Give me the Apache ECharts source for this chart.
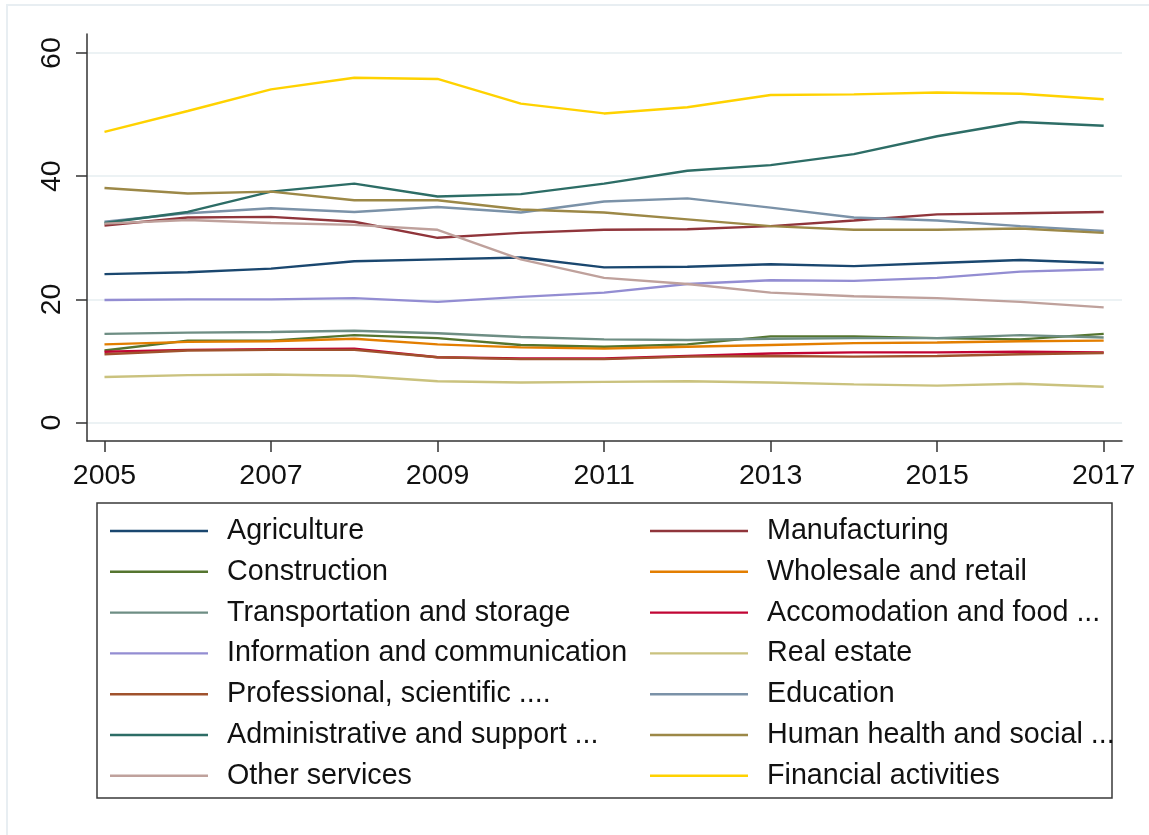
<!DOCTYPE html>
<html>
<head>
<meta charset="utf-8">
<title>Sector shares 2005-2017</title>
<script src="https://cdn.jsdelivr.net/npm/echarts@6/dist/echarts.min.js"></script>
<style>
  html, body { margin: 0; padding: 0; background: #ffffff; }
  #chart { width: 1149px; height: 835px; }
</style>
</head>
<body>
<div id="chart"></div>
<script>
// Years on the horizontal axis
const years = [2005, 2006, 2007, 2008, 2009, 2010, 2011, 2012, 2013, 2014, 2015, 2016, 2017];
const xTickYears = [2005, 2007, 2009, 2011, 2013, 2015, 2017];
const yTickValues = [0, 20, 40, 60];

// One array per sector
const agriculture     = [24.1, 24.4, 25.0, 26.2, 26.5, 26.8, 25.2, 25.3, 25.7, 25.4, 25.9, 26.4, 25.9];
const manufacturing   = [32.0, 33.3, 33.4, 32.6, 30.0, 30.8, 31.3, 31.4, 31.9, 32.8, 33.8, 34.0, 34.2];
const construction    = [11.7, 13.3, 13.3, 14.2, 13.7, 12.6, 12.3, 12.7, 14.0, 14.0, 13.7, 13.5, 14.4];
const wholesale       = [12.7, 13.1, 13.2, 13.6, 12.7, 12.2, 12.0, 12.3, 12.6, 12.9, 13.0, 13.2, 13.3];
const transportation  = [14.4, 14.6, 14.7, 14.9, 14.5, 13.9, 13.5, 13.4, 13.6, 13.7, 13.7, 14.2, 13.8];
const accomodation    = [11.5, 11.8, 11.9, 12.0, 10.6, 10.4, 10.4, 10.8, 11.2, 11.4, 11.4, 11.5, 11.4];
const information     = [19.9, 20.0, 20.0, 20.2, 19.6, 20.4, 21.1, 22.5, 23.1, 23.0, 23.5, 24.5, 24.9];
const realEstate      = [7.4, 7.7, 7.8, 7.6, 6.7, 6.5, 6.6, 6.7, 6.5, 6.2, 6.0, 6.3, 5.8];
const professional    = [11.1, 11.7, 11.8, 11.8, 10.6, 10.3, 10.3, 10.7, 10.8, 10.7, 10.8, 11.1, 11.3];
const education       = [32.6, 34.0, 34.8, 34.2, 35.0, 34.1, 35.9, 36.4, 34.9, 33.3, 32.8, 31.9, 31.1];
const administrative  = [32.4, 34.2, 37.5, 38.8, 36.7, 37.1, 38.8, 40.9, 41.8, 43.6, 46.5, 48.8, 48.2];
const humanHealth     = [38.1, 37.2, 37.5, 36.1, 36.1, 34.6, 34.1, 33.0, 31.9, 31.3, 31.3, 31.5, 30.8];
const otherServices   = [32.3, 32.9, 32.4, 32.1, 31.3, 26.5, 23.5, 22.5, 21.1, 20.5, 20.2, 19.6, 18.7];
const financial       = [47.2, 50.6, 54.1, 56.0, 55.8, 51.8, 50.2, 51.2, 53.2, 53.3, 53.6, 53.4, 52.5];

const sectorNames = [
  'Agriculture', 'Manufacturing', 'Construction', 'Wholesale and retail',
  'Transportation and storage', 'Accomodation and food ...', 'Information and communication',
  'Real estate', 'Professional, scientific ....', 'Education', 'Administrative and support ...',
  'Human health and social ...', 'Other services', 'Financial activities'
];
const sectorValues = [
  agriculture, manufacturing, construction, wholesale, transportation, accomodation,
  information, realEstate, professional, education, administrative, humanHealth,
  otherServices, financial
];
const sectorColors = [
  '#1a476f', '#90353b', '#55752f', '#e37e00', '#6e8e84', '#c10534', '#938dd2',
  '#cac27e', '#a0522d', '#7b92a8', '#2d6d66', '#9c8847', '#bfa19c', '#ffd200'
];

const FONT = '"Liberation Sans", Arial, sans-serif';

const series = sectorNames.map((name, i) => ({
  name: name,
  type: 'line',
  symbol: 'none',
  animation: false,
  color: sectorColors[i],
  lineStyle: { width: 2.4, color: sectorColors[i] },
  data: years.map((y, k) => [y, sectorValues[i][k]])
}));

// Two vertical legend columns, filled row by row
function legendBlock(left, names) {
  return {
    orient: 'vertical',
    left: left,
    top: 515,
    padding: 0,
    itemGap: 8.8,
    itemWidth: 98,
    itemHeight: 2.4,
    icon: 'rect',
    selectedMode: false,
    data: names,
    textStyle: {
      fontFamily: FONT,
      fontSize: 28.7,
      lineHeight: 32,
      color: '#111',
      padding: [0, 0, 0, 14]
    }
  };
}

const chart = echarts.init(document.getElementById('chart'), null, { renderer: 'canvas' });
chart.setOption({
  backgroundColor: '#ffffff',
  animation: false,
  grid: { left: 87, top: 34, right: 27, bottom: 394 },
  xAxis: {
    type: 'value',
    min: 2004.79,
    max: 2017.22,
    axisLine: { show: true, onZero: false, lineStyle: { color: '#333', width: 1.5 } },
    axisTick: { show: true, length: 11, lineStyle: { color: '#333', width: 1.5 }, customValues: xTickYears },
    axisLabel: { customValues: xTickYears, margin: 21, fontFamily: FONT, fontSize: 28.5, color: '#111',
                 formatter: v => String(v) },
    splitLine: { show: false }
  },
  yAxis: {
    type: 'value',
    min: -3.0,
    max: 63.1,
    axisLine: { show: true, onZero: false, lineStyle: { color: '#333', width: 1.5 } },
    axisTick: { show: true, length: 11, lineStyle: { color: '#333', width: 1.5 }, customValues: yTickValues },
    axisLabel: { customValues: yTickValues, rotate: 90, margin: 20, fontFamily: FONT, fontSize: 28.5, color: '#111' },
    splitLine: { show: true, lineStyle: { color: '#e6eef1', width: 1.5 } }
  },
  legend: [
    legendBlock(110, sectorNames.filter((_, i) => i % 2 === 0)),
    legendBlock(650, sectorNames.filter((_, i) => i % 2 === 1))
  ],
  graphic: [
    { type: 'rect', shape: { x: 7, y: 5, width: 1160, height: 850 }, silent: true,
      style: { fill: 'none', stroke: '#e8eef2', lineWidth: 2 }, z: -10 },
    { type: 'rect', shape: { x: 97, y: 503, width: 1015, height: 295 }, silent: true,
      style: { fill: 'none', stroke: '#3a3a3a', lineWidth: 1.5 } }
  ],
  series: series
});
</script>
</body>
</html>
